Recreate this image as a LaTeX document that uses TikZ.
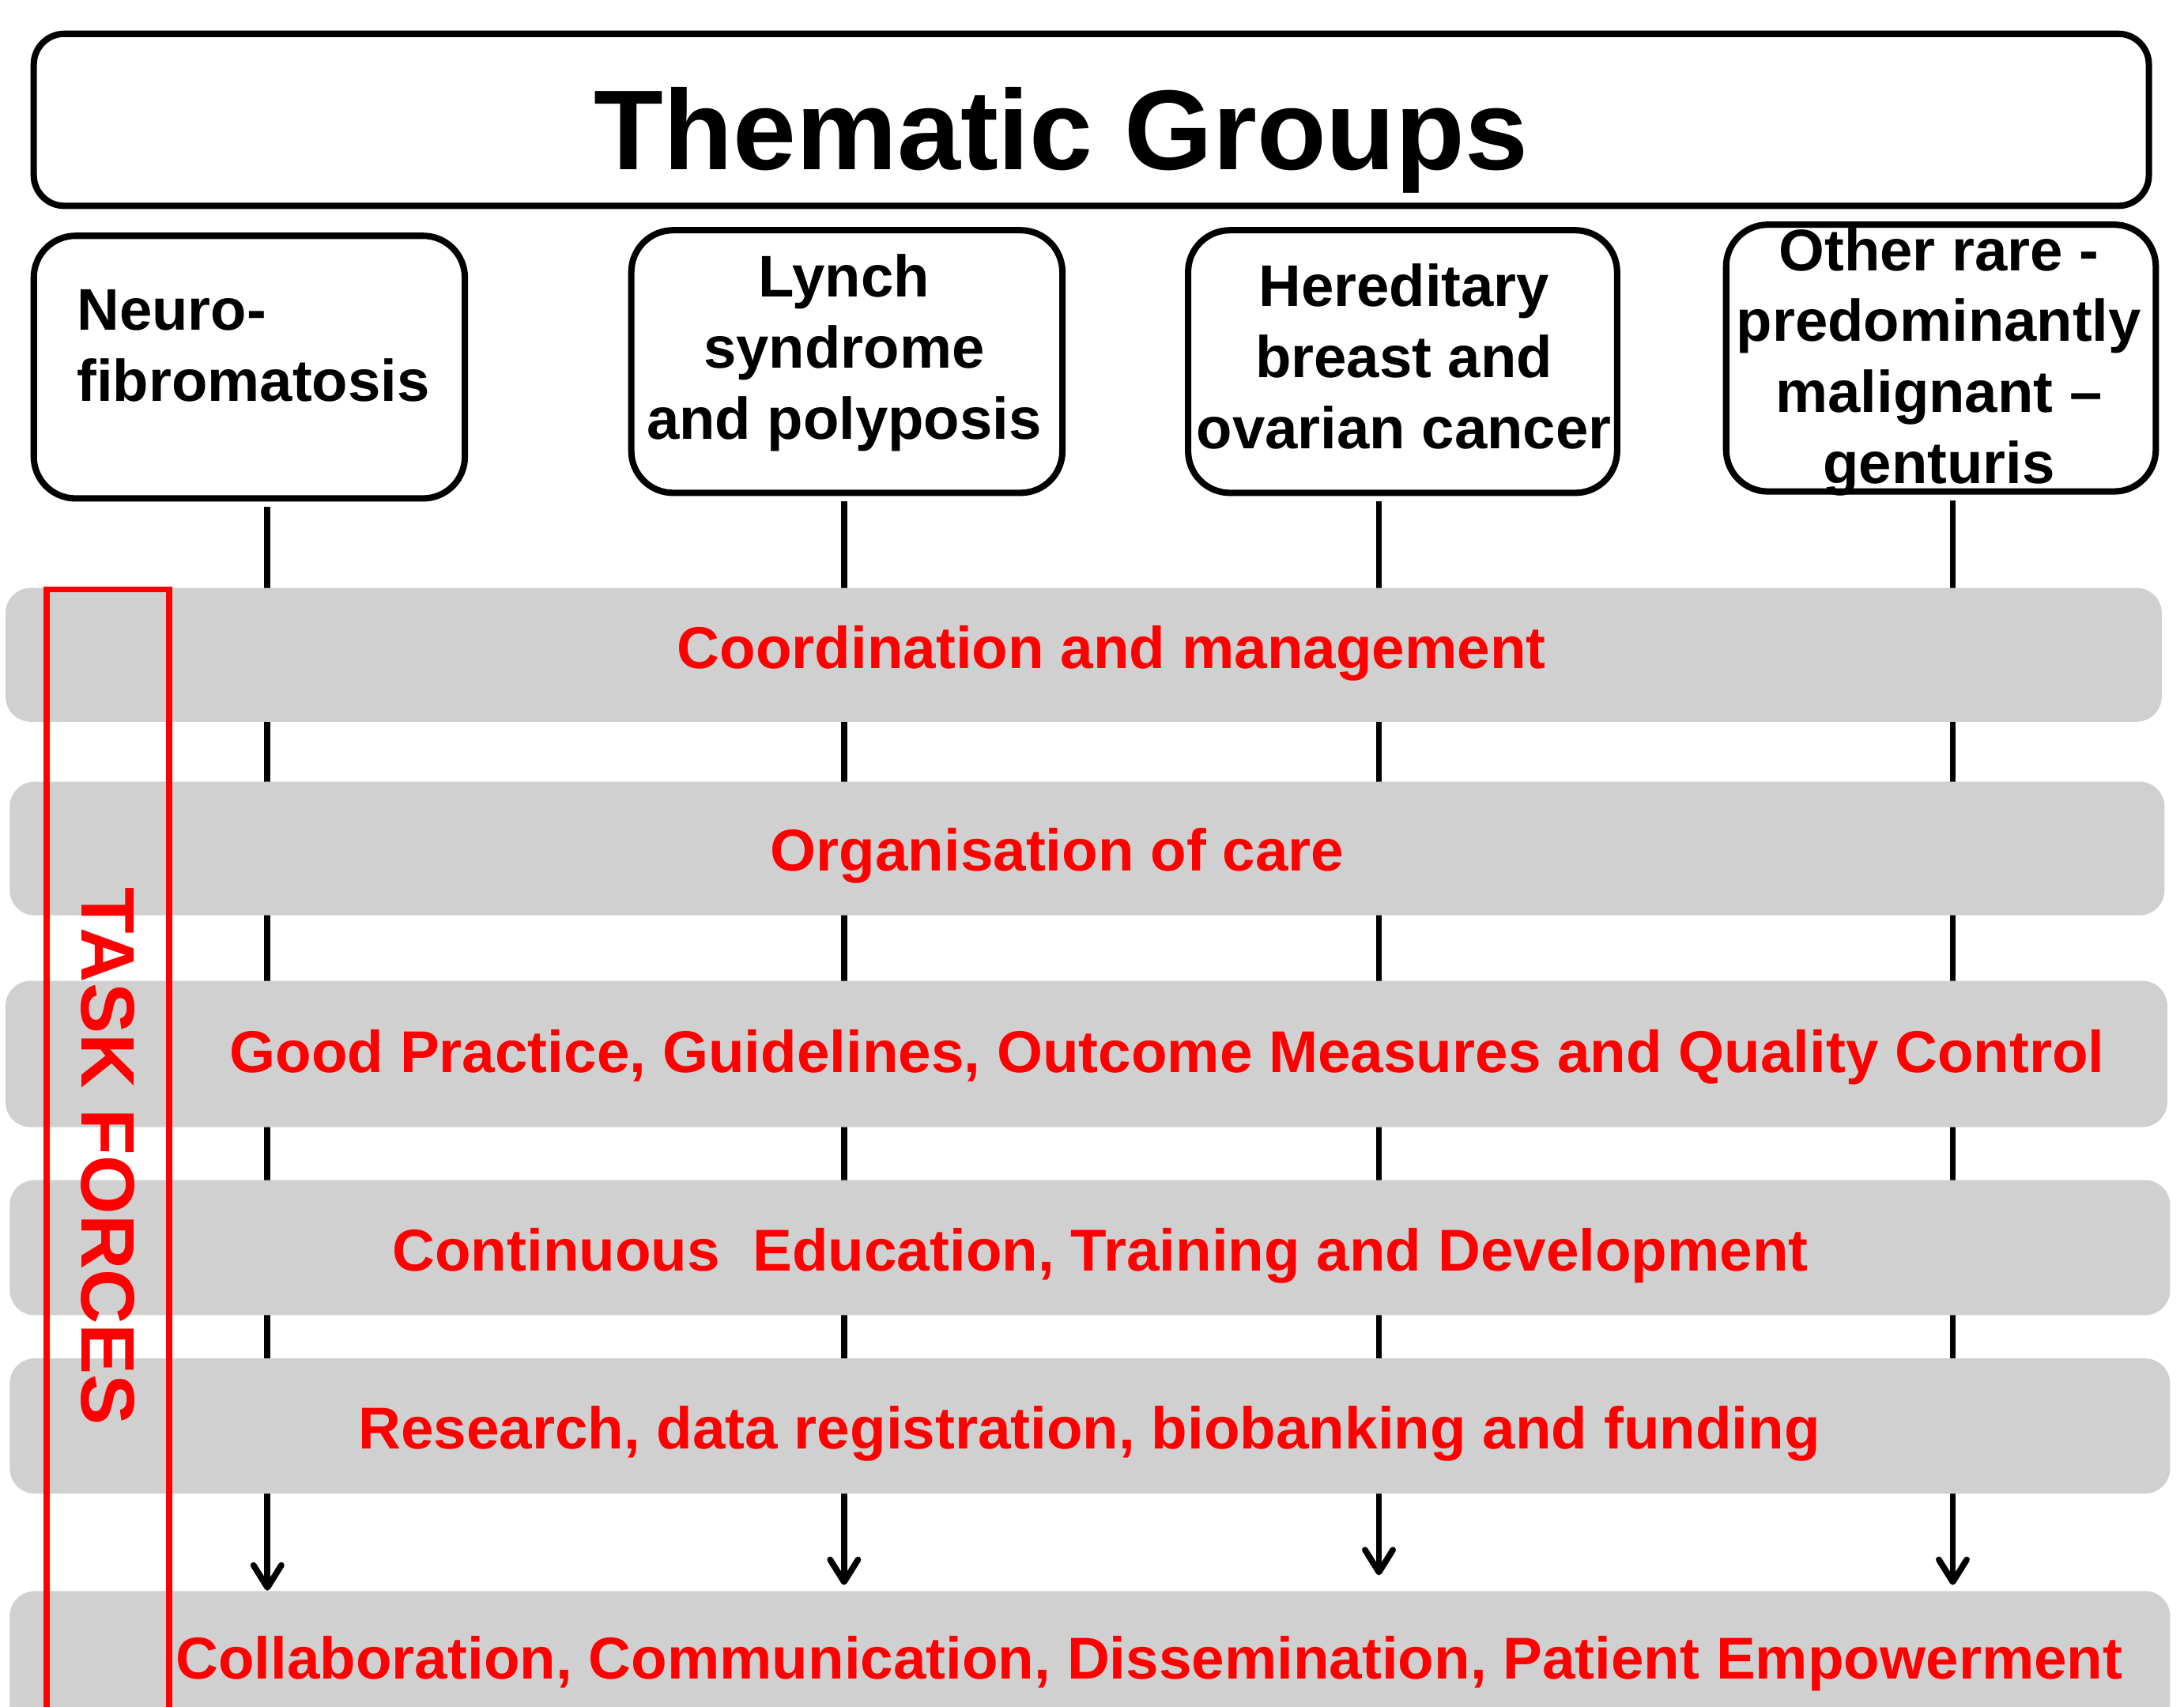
\documentclass[tikz,border=0pt]{standalone}
\usepackage{fontspec}
\setmainfont{Liberation Sans}
\usetikzlibrary{arrows.meta}
\definecolor{bandgray}{RGB}{208,208,208}
\tikzset{
  groupbox/.style={draw=black, line width=2.6pt, rounded corners=6mm, fill=white},
  grouptext/.style={inner sep=0pt, align=center, font=\bfseries\fontsize{24}{29}\selectfont},
  band/.style={fill=bandgray, rounded corners=3.6mm, inner sep=0pt},
  bandtext/.style={inner sep=0pt, text=red, font=\bfseries\fontsize{24.1}{29}\selectfont},
  link/.style={line width=2.5pt, -{Straight Barb[length=3.2mm,width=4mm,round]}},
}
\begin{document}
\begin{tikzpicture}[x=0.2mm,y=-0.2mm]
\useasboundingbox (0,0) rectangle (1568,1225);

% title
\node[groupbox, rounded corners=4.4mm, minimum width=303.7mm, minimum height=24.7mm] (title) at (783.5,86) {};
\node[inner sep=0pt, anchor=base, font=\bfseries\fontsize{46.4}{56}\selectfont] at (762,122) {Thematic Groups};

% thematic groups (text placed at baseline of last line)
\node[groupbox, minimum width=61.9mm, minimum height=37.7mm] (gA) at (179,263.5) {};
\node[groupbox, minimum width=61.9mm, minimum height=37.7mm] (gB) at (608,259.5) {};
\node[groupbox, minimum width=61.6mm, minimum height=37.7mm] (gC) at (1007,259.5) {};
\node[groupbox, minimum width=61.7mm, minimum height=38.3mm] (gD) at (1393.5,257) {};
\node[grouptext, align=left, anchor=base west] at (55,288) {Neuro-\\fibromatosis};
\node[grouptext, anchor=base] at (606,315) {Lynch\\syndrome\\and polyposis};
\node[grouptext, anchor=base] at (1008,322) {Hereditary\\breast and\\ovarian cancer};
\node[grouptext, anchor=base] at (1392,347) {Other rare -\\predominantly\\malignant --\\genturis};

% lines down to the last band
\node[band, minimum width=310.2mm, minimum height=23.6mm] (collab) at (782.5,1201) {};
\foreach \g/\x/\s in {gA/192/0mm, gB/606/0.8mm, gC/990/2.2mm, gD/1402/0.8mm}{
  \coordinate (l\g) at (\x,0);
  \draw[link, shorten <=0.8mm, shorten >=\s] (\g.south -| l\g) -- (l\g |- collab.north);
}

% task force bands
\node[band, minimum width=309.6mm, minimum height=19.2mm] (coord) at (778,470) {};
\node[band, minimum width=309.4mm, minimum height=19.2mm] (orga) at (780.5,609) {};
\node[band, minimum width=310.4mm, minimum height=21mm] (good) at (780,756.5) {};
\node[band, minimum width=310.2mm, minimum height=19.4mm] (edu) at (782.5,895.5) {};
\node[band, minimum width=310.2mm, minimum height=19.4mm] (research) at (782.5,1023.5) {};

\node[bandtext, anchor=base] at (798,480) {Coordination and management};
\node[bandtext, anchor=base] at (759,625) {Organisation of care};
\node[bandtext, anchor=base] at (838,770) {Good Practice, Guidelines, Outcome Measures and Quality Control};
\node[bandtext, anchor=base] at (790,912) {Continuous\ \ Education, Training and Development};
\node[bandtext, anchor=base] at (782,1040) {Research, data registration, biobanking and funding};
\node[bandtext, anchor=base] at (825,1205) {Collaboration, Communication, Dissemination, Patient Empowerment};

% task forces frame
\draw[red, line width=2.5pt] (33.5,1240) -- (33.5,423) -- (121.5,423) -- (121.5,1240);
\node[rotate=-90, inner sep=0pt, text=red, font=\bfseries\fontsize{31}{37}\selectfont] (tf) at (77.7,830) {TASK FORCES};
\end{tikzpicture}
\end{document}
